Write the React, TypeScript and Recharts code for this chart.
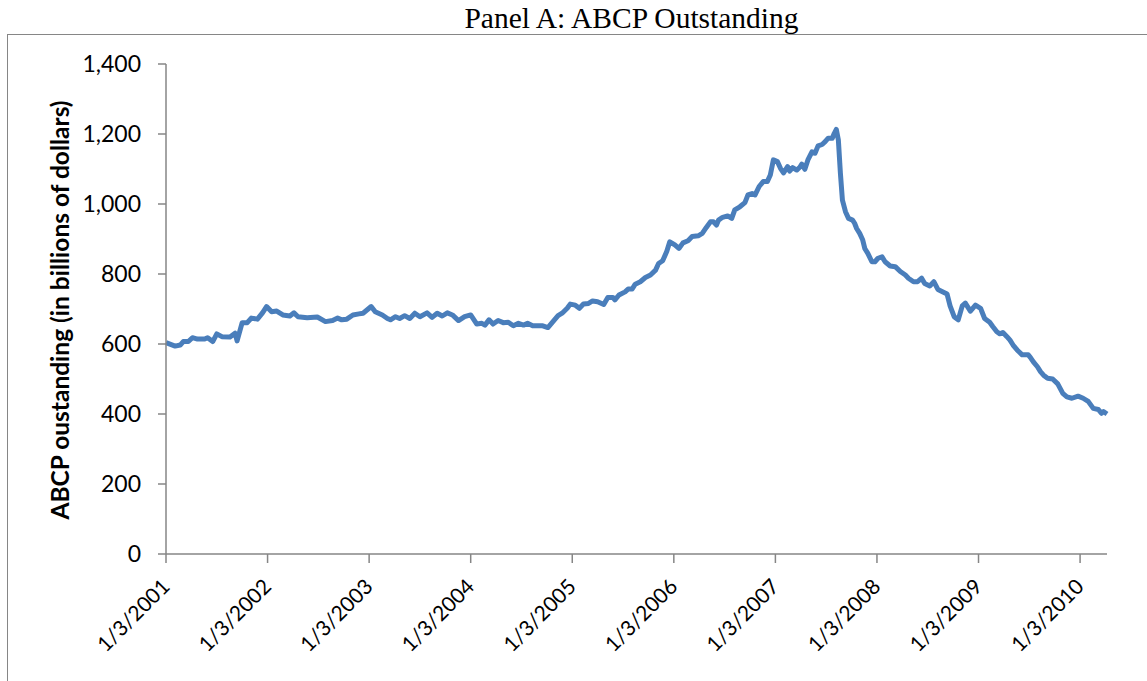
import { LineChart, Line, XAxis, YAxis } from "recharts";

/* ------------------------------------------------------------------ */
/*  Data                                      */
/* ------------------------------------------------------------------ */

// years elapsed since 1/3/2001
const yearsAfterStart = [
  0.0, 0.09, 0.14, 0.17, 0.22, 0.26, 0.31, 0.38, 0.41, 0.46,
  0.5, 0.55, 0.63, 0.68, 0.7, 0.75, 0.8, 0.84, 0.9, 0.95,
  0.99, 1.04, 1.09, 1.15, 1.22, 1.26, 1.3, 1.39, 1.49, 1.57,
  1.64, 1.69, 1.73, 1.78, 1.84, 1.9, 1.94, 2.02, 2.06, 2.13,
  2.18, 2.21, 2.26, 2.3, 2.35, 2.4, 2.45, 2.5, 2.57, 2.62,
  2.67, 2.72, 2.77, 2.82, 2.88, 2.94, 3.0, 3.06, 3.11, 3.14,
  3.18, 3.22, 3.27, 3.32, 3.37, 3.42, 3.47, 3.52, 3.56, 3.61,
  3.66, 3.71, 3.76, 3.81, 3.86, 3.9, 3.95, 3.98, 4.03, 4.07,
  4.11, 4.16, 4.2, 4.25, 4.31, 4.35, 4.4, 4.42, 4.46, 4.52,
  4.55, 4.59, 4.62, 4.67, 4.72, 4.77, 4.82, 4.85, 4.89, 4.93,
  4.96, 5.01, 5.05, 5.09, 5.14, 5.18, 5.24, 5.28, 5.32, 5.36,
  5.39, 5.42, 5.44, 5.48, 5.53, 5.57, 5.6, 5.65, 5.7, 5.73,
  5.77, 5.8, 5.84, 5.88, 5.92, 5.95, 5.98, 6.02, 6.05, 6.08,
  6.12, 6.14, 6.17, 6.21, 6.24, 6.26, 6.29, 6.32, 6.36, 6.39,
  6.42, 6.46, 6.49, 6.52, 6.56, 6.58, 6.6, 6.62, 6.64, 6.66,
  6.69, 6.72, 6.76, 6.78, 6.8, 6.83, 6.86, 6.88, 6.91, 6.95,
  6.98, 7.01, 7.05, 7.08, 7.13, 7.18, 7.23, 7.28, 7.31, 7.36,
  7.4, 7.44, 7.47, 7.52, 7.56, 7.6, 7.69, 7.72, 7.76, 7.8,
  7.84, 7.87, 7.92, 7.97, 8.02, 8.06, 8.11, 8.14, 8.18, 8.21,
  8.24, 8.28, 8.31, 8.34, 8.38, 8.43, 8.49, 8.51, 8.54, 8.58,
  8.61, 8.64, 8.68, 8.73, 8.78, 8.83, 8.87, 8.92, 8.98, 9.03,
  9.08, 9.13, 9.18, 9.21, 9.23, 9.265,
];

// ABCP outstanding, billions of dollars
const abcpOutstanding = [
  604, 594, 597, 607, 607, 618, 614, 614, 618, 607,
  629, 621, 620, 631, 609, 661, 661, 674, 671, 689,
  707, 692, 694, 683, 680, 689, 678, 675, 677, 664,
  667, 674, 669, 671, 683, 686, 688, 707, 692, 683,
  673, 669, 678, 673, 681, 673, 688, 678, 689, 676,
  688, 680, 689, 683, 667, 678, 683, 657, 659, 654,
  669, 657, 667, 661, 662, 652, 659, 654, 659, 652,
  652, 652, 647, 664, 681, 688, 702, 714, 711, 702,
  714, 716, 723, 721, 713, 733, 733, 726, 740, 749,
  757, 757, 771, 778, 790, 797, 811, 830, 838, 864,
  892, 883, 873, 889, 895, 907, 909, 916, 933, 949,
  949, 940, 954, 962, 966, 959, 983, 992, 1004, 1026,
  1030, 1026, 1050, 1064, 1064, 1083, 1126, 1121, 1102, 1089,
  1107, 1094, 1104, 1097, 1105, 1114, 1099, 1126, 1149, 1145,
  1166, 1170, 1178, 1188, 1188, 1202, 1213, 1183, 1088, 1011,
  978, 959, 954, 945, 930, 916, 897, 873, 859, 835,
  835, 845, 849, 835, 823, 821, 807, 797, 788, 778,
  778, 788, 773, 766, 778, 756, 743, 709, 678, 669,
  709, 717, 694, 711, 702, 673, 662, 650, 635, 629,
  633, 621, 611, 597, 583, 569, 569, 562, 549, 535,
  521, 511, 502, 500, 486, 459, 449, 445, 451, 445,
  436, 416, 413, 402, 407, 400,
];

const xTicks = [0, 1, 2, 3, 4, 5, 6, 7, 8, 9];
const xTickLabels = [
  "1/3/2001", "1/3/2002", "1/3/2003", "1/3/2004", "1/3/2005",
  "1/3/2006", "1/3/2007", "1/3/2008", "1/3/2009", "1/3/2010",
];
const yTicks = [0, 200, 400, 600, 800, 1000, 1200, 1400];

const chartData = yearsAfterStart.map((t, i) => ({
  t,
  value: abcpOutstanding[i],
}));

/* ------------------------------------------------------------------ */
/*  Styling                                                            */
/* ------------------------------------------------------------------ */

const LINE_BLUE = "#4a7ebb";
const AXIS_GREY = "#868686";
const FONT = "Lato, 'Open Sans', sans-serif";

function XTick({ x, y, payload }: { x?: number; y?: number; payload?: { value: number; index: number } }) {
  const label = xTickLabels[xTicks.indexOf(payload?.value ?? 0)];
  return (
    <g transform={`translate(${x},${y})`}>
      <text
        x={5}
        y={25}
        transform="rotate(-45 5 25)"
        textAnchor="end"
        fill="#000"
        fontSize={21}
        fontFamily={FONT}
      >
        {label}
      </text>
    </g>
  );
}

export default function App() {
  return (
    <div
      style={{
        position: "absolute",
        left: 0,
        top: 0,
        width: 1147,
        height: 681,
        overflow: "hidden",
        background: "#fff",
      }}
    >
      {/* ---- frame ---- */}
      <div
        style={{
          position: "absolute",
          left: 7,
          top: 34,
          width: 1200,
          height: 700,
          borderLeft: `1px solid ${AXIS_GREY}`,
          borderTop: `1px solid ${AXIS_GREY}`,
        }}
      />

      {/* ---- title ---- */}
      <div
        style={{
          position: "absolute",
          left: 0,
          top: 3,
          width: 1263,
          textAlign: "center",
          fontFamily: "'Liberation Serif', 'Times New Roman', serif",
          fontSize: 29.5,
          lineHeight: "30px",
          color: "#000",
        }}
      >
        Panel A: ABCP Outstanding
      </div>

      <div style={{ position: "absolute", left: 0, top: 0 }}>
        <LineChart
          width={1147}
          height={681}
          data={chartData}
          margin={{ top: 64, right: 40, bottom: 27, left: 0 }}
        >
          <XAxis
            dataKey="t"
            type="number"
            domain={[0, 9.265]}
            ticks={xTicks}
            interval={0}
            height={100}
            tickSize={9}
            tickMargin={0}
            stroke={AXIS_GREY}
            strokeWidth={1.5}
            tick={<XTick />}
          />
          <YAxis
            domain={[0, 1400]}
            ticks={yTicks}
            interval={0}
            width={166}
            tickSize={8}
            tickMargin={17}
            stroke={AXIS_GREY}
            strokeWidth={1.5}
            tickFormatter={(v: number) => v.toLocaleString("en-US")}
            tick={{ fill: "#000", fontSize: 23, fontFamily: FONT }}
            label={{
              content: () => (
                <text
                  x={69}
                  y={310}
                  transform="rotate(-90 69 310)"
                  textAnchor="middle"
                  fontWeight="bold"
                  fontSize={24.5}
                  fontFamily={FONT}
                  fill="#000"
                >
                  ABCP oustanding (in billions of dollars)
                </text>
              ),
            }}
          />
          <Line
            type="linear"
            dataKey="value"
            stroke={LINE_BLUE}
            strokeWidth={5}
            strokeLinejoin="round"
            dot={false}
            isAnimationActive={false}
          />
        </LineChart>
      </div>
    </div>
  );
}
